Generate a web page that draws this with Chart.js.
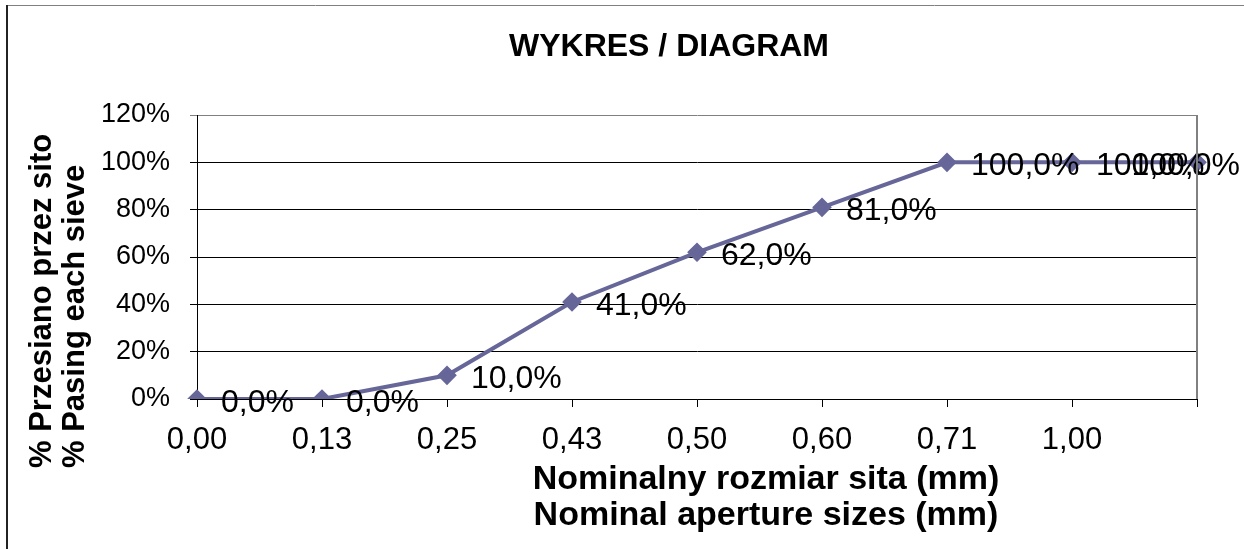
<!DOCTYPE html>
<html>
<head>
<meta charset="utf-8">
<title>WYKRES / DIAGRAM</title>
<script src="https://cdn.jsdelivr.net/npm/chart.js@4/dist/chart.umd.min.js"></script>
<style>
    html, body { margin: 0; padding: 0; background: #ffffff; }
    #wrap { position: absolute; left: 0; top: 0; width: 1244px; height: 549px; }
</style>
</head>
<body>
<div id="wrap"><canvas id="sieveCanvas"></canvas></div>
<script>
var sieveSizes = ["0,00", "0,13", "0,25", "0,43", "0,50", "0,60", "0,71", "1,00", ""];
var passingPercent = [0, 0, 10, 41, 62, 81, 100, 100, 100];
var yTickValues = [0, 20, 40, 60, 80, 100, 120];
var chartTitle = "WYKRES / DIAGRAM";
var xTitleLines = ["Nominalny rozmiar sita (mm)", "Nominal aperture sizes (mm)"];
var yTitleLines = ["% Przesiano przez sito", "% Pasing each sieve"];

var FONT = "'Liberation Sans', Arial, sans-serif";

function formatPercent(v) {
    return v.toFixed(1).replace(".", ",") + "%";
}

// frame around the whole chart (left + top edge only, like the source)
var framePlugin = {
    id: "frame",
    beforeDraw: function(chart) {
        var ctx = chart.ctx;
        ctx.save();
        ctx.strokeStyle = "#808080";
        ctx.lineWidth = 1;
        ctx.beginPath();
        ctx.moveTo(6, 5.5);
        ctx.lineTo(chart.width, 5.5);
        ctx.stroke();
        ctx.strokeStyle = "#222222";
        ctx.lineWidth = 2;
        ctx.beginPath();
        ctx.moveTo(7, 5);
        ctx.lineTo(7, chart.height);
        ctx.stroke();
        ctx.restore();
    },
    afterDraw: function(chart) {
        var area = chart.chartArea;
        var ctx = chart.ctx;
        ctx.save();
        ctx.strokeStyle = "#808080";
        ctx.lineWidth = 2;
        ctx.beginPath();
        ctx.moveTo(area.right, area.top);
        ctx.lineTo(area.right, area.bottom);
        ctx.stroke();
        ctx.restore();
    }
};

// chart title + axis titles, placed where the spreadsheet put them
var titlesPlugin = {
    id: "titles",
    afterDraw: function(chart) {
        var ctx = chart.ctx;
        var area = chart.chartArea;
        ctx.save();
        ctx.fillStyle = "#000000";
        ctx.textBaseline = "middle";

        ctx.font = "bold 32px " + FONT;
        ctx.textAlign = "center";
        ctx.fillText(chartTitle, 669, 47);

        ctx.font = "bold 34px " + FONT;
        for (var i = 0; i < xTitleLines.length; i++) {
            ctx.fillText(xTitleLines[i], 766, area.bottom + 81 + i * 36);
        }

        ctx.font = "bold 31px " + FONT;
        ctx.textAlign = "left";
        for (var j = 0; j < yTitleLines.length; j++) {
            ctx.save();
            ctx.translate(42 + j * 33, 468);
            ctx.rotate(-Math.PI / 2);
            ctx.fillText(yTitleLines[j], 0, 0);
            ctx.restore();
        }
        ctx.restore();
    }
};

var valueLabelPlugin = {
    id: "valueLabels",
    afterDatasetsDraw: function(chart) {
        var ctx = chart.ctx;
        var meta = chart.getDatasetMeta(0);
        ctx.save();
        ctx.font = "32px " + FONT;
        ctx.fillStyle = "#000000";
        ctx.textAlign = "left";
        ctx.textBaseline = "middle";
        for (var i = 0; i < meta.data.length; i++) {
            var pt = meta.data[i];
            var text = formatPercent(passingPercent[i]);
            var w = ctx.measureText(text).width;
            var x = pt.x + 24;
            if (x + w > chart.width - 4) {
                x = chart.width - 4 - w;
            }
            ctx.fillText(text, x, pt.y + 4);
        }
        ctx.restore();
    }
};

window.addEventListener("load", function() {
    var ctx = document.getElementById("sieveCanvas");
    new Chart(ctx, {
        type: "line",
        data: {
            labels: sieveSizes,
            datasets: [{
                label: "Passing",
                data: passingPercent,
                borderColor: "#666699",
                backgroundColor: "#666699",
                borderWidth: 4,
                pointStyle: "rectRot",
                pointRadius: 7,
                pointHoverRadius: 7,
                tension: 0,
                fill: false
            }]
        },
        options: {
            responsive: true,
            maintainAspectRatio: false,
            animation: false,
            events: [],
            layout: { padding: { left: 8, right: 47, top: 115, bottom: 0 } },
            plugins: {
                legend: { display: false },
                tooltip: { enabled: false },
                title: { display: false }
            },
            scales: {
                x: {
                    offset: false,
                    afterFit: function(scale) { scale.height = 150; },
                    grid: {
                        display: true,
                        drawOnChartArea: false,
                        drawTicks: true,
                        tickLength: 8,
                        color: "#000000"
                    },
                    border: { color: "#000000", width: 1 },
                    ticks: {
                        color: "#000000",
                        font: { family: FONT, size: 31 },
                        padding: 15,
                        maxRotation: 0,
                        autoSkip: false
                    }
                },
                y: {
                    min: 0,
                    max: 120,
                    afterFit: function(scale) { scale.width = 189; },
                    afterBuildTicks: function(scale) {
                        scale.ticks = yTickValues.map(function(v) { return { value: v }; });
                    },
                    grid: {
                        color: function(c) {
                            return c.tick && c.tick.value === 120 ? "#808080" : "#000000";
                        },
                        lineWidth: 1,
                        tickLength: 7
                    },
                    border: { color: "#000000", width: 1 },
                    ticks: {
                        color: "#000000",
                        font: { family: FONT, size: 27 },
                        padding: 20,
                        callback: function(v) { return v + "%"; }
                    }
                }
            }
        },
        plugins: [framePlugin, valueLabelPlugin, titlesPlugin]
    });
});
</script>
</body>
</html>
